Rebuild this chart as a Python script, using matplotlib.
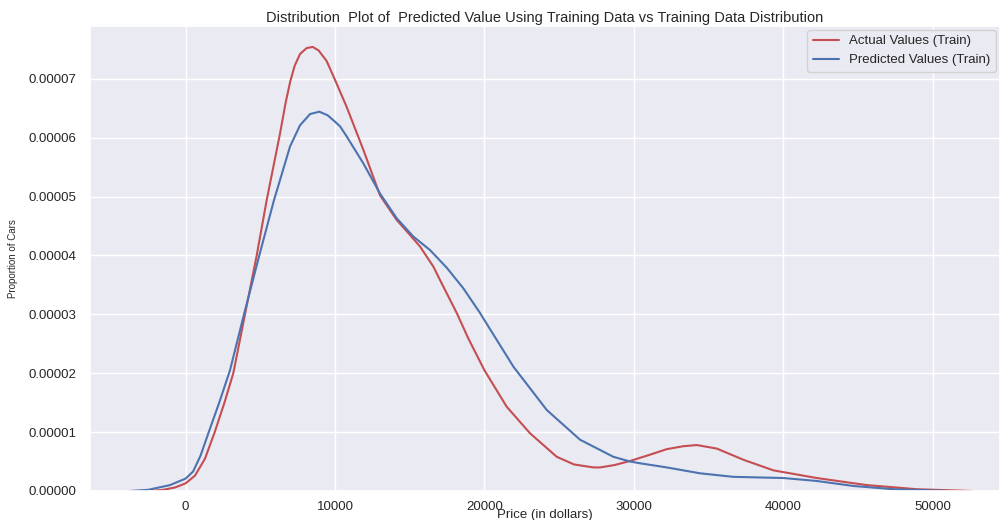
import numpy as np
import matplotlib
matplotlib.use('Agg')
import matplotlib.pyplot as plt
import seaborn as sns
from matplotlib.ticker import FormatStrFormatter, MultipleLocator

sns.set_theme(style='darkgrid', color_codes=True)
plt.rcParams['font.family'] = ['Liberation Sans', 'DejaVu Sans']

# ── KDE curves (price in $, density in 1e-5) ──────────────────────────────
actual_x = [-2270, -1500, -700, 0, 629, 1300, 1950, 2600, 3193, 3976, 4759,
            5428, 6320, 6700, 7000, 7300, 7660, 8100, 8510, 8900, 9440, 10000,
            10780, 11900, 13010, 14130, 14800, 15690, 16580, 17030, 18150,
            18920, 20000, 21490, 23050, 24840, 26000, 27290, 27740, 28700,
            29750, 31000, 32200, 33300, 34210, 35550, 37330, 39340, 42240,
            45590, 48940, 52620]
actual_y = [0.0, 0.02, 0.06, 0.13, 0.26, 0.55, 1.0, 1.5, 2.0, 3.0, 4.0,
            4.94, 6.07, 6.60, 6.95, 7.22, 7.42, 7.52, 7.54, 7.48, 7.30, 6.98,
            6.52, 5.79, 5.02, 4.60, 4.41, 4.15, 3.81, 3.58, 3.02,
            2.59, 2.05, 1.43, 0.98, 0.58, 0.45, 0.40, 0.40, 0.44,
            0.51, 0.61, 0.71, 0.76, 0.78, 0.72, 0.53, 0.35, 0.22,
            0.10, 0.03, 0.0]

pred_x = [-3720, -2500, -1044, 0, 500, 1000, 1550, 2250, 2972, 3909, 4933,
          5917, 6320, 6990, 7660, 8330, 8950, 9500, 10000, 10340, 10780,
          11900, 13010, 14130, 15240, 16360, 17480, 18590, 19710, 20000,
          21940, 24170, 26400, 28630, 29750, 30420, 32200, 34430, 36660,
          40010, 42240, 44690, 47370, 50940]
pred_y = [0.0, 0.02, 0.10, 0.21, 0.33, 0.60, 1.0, 1.5, 2.05, 3.0, 4.0,
          4.94, 5.28, 5.85, 6.21, 6.40, 6.44, 6.38, 6.27, 6.19, 6.02,
          5.56, 5.05, 4.63, 4.32, 4.09, 3.79, 3.44, 3.02, 2.90,
          2.11, 1.375, 0.87, 0.58, 0.50, 0.47, 0.40, 0.30, 0.24,
          0.22, 0.17, 0.085, 0.03, 0.0]

fig = plt.figure(figsize=(10.04, 5.20), dpi=100)
ax = fig.add_axes([0.0896, 0.0558, 0.9064, 0.8942])

ax.plot(actual_x, np.array(actual_y) * 1e-5, color='r', lw=1.5,
        label='Actual Values (Train)')
ax.plot(pred_x, np.array(pred_y) * 1e-5, color='b', lw=1.5,
        label='Predicted Values (Train)')

ax.set_xlim(-6400, 54500)
ax.set_ylim(0, 7.895e-5)
ax.xaxis.set_major_locator(MultipleLocator(10000))
ax.yaxis.set_major_locator(MultipleLocator(1e-5))
ax.yaxis.set_major_formatter(FormatStrFormatter('%.5f'))
ax.tick_params(labelsize=9.5)
ax.tick_params(axis='x', pad=1)

ax.set_title('Distribution  Plot of  Predicted Value Using Training Data vs Training Data Distribution',
             fontsize=10.5, pad=3)
ax.set_xlabel('Price (in dollars)', fontsize=9.5)
ax.xaxis.set_label_coords(0.5, -0.039)
ax.set_ylabel('Proportion of Cars', fontsize=7, labelpad=8)
ax.legend(loc='upper right', fontsize=9.5, borderaxespad=0.3)

fig.savefig('out.png', dpi=100, facecolor='white')
